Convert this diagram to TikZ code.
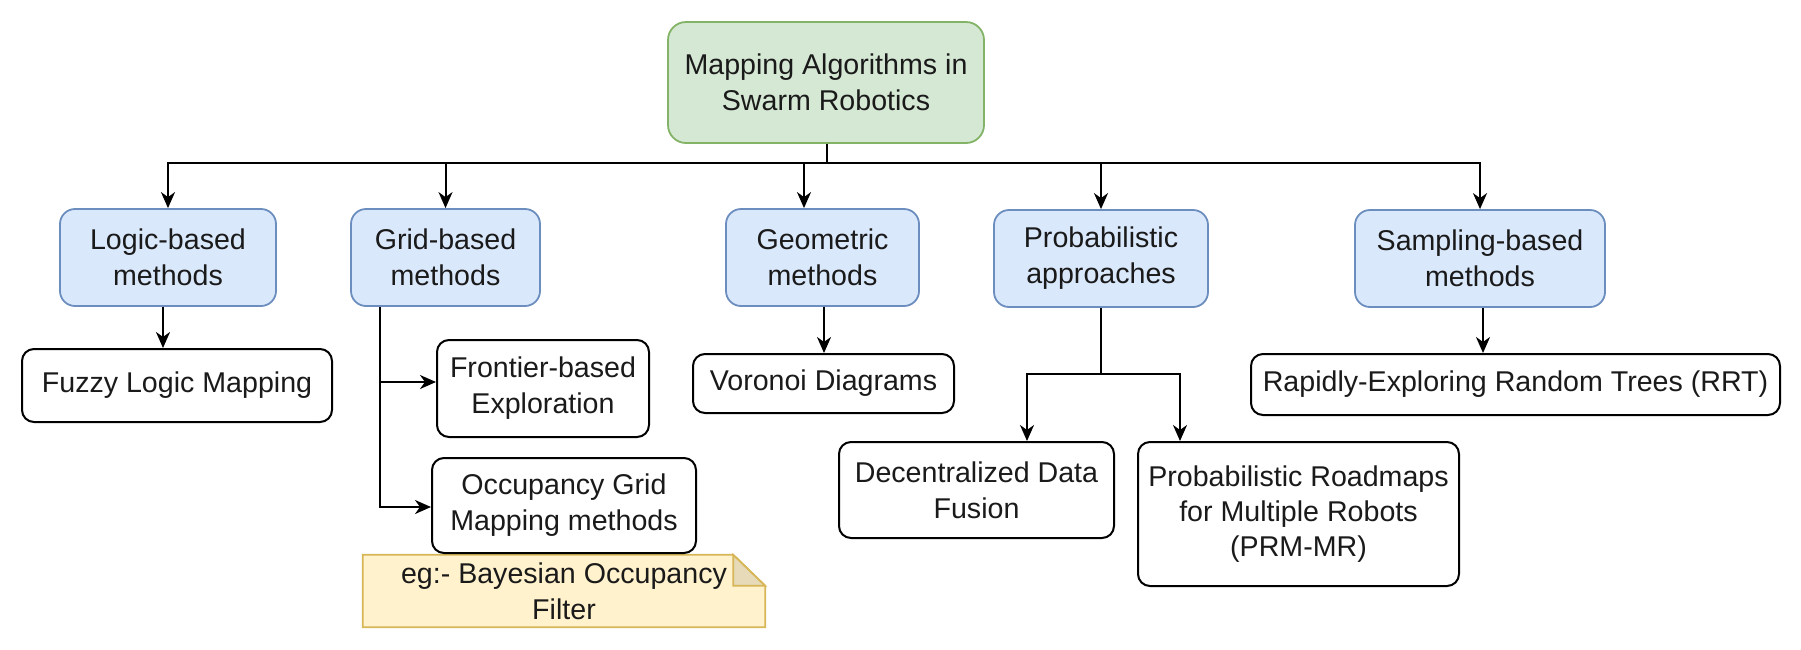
\documentclass[tikz,border=0pt]{standalone}
\usepackage{fontspec}
\setmainfont{Liberation Sans}
\usetikzlibrary{arrows.meta,calc}
\pgfdeclarelayer{background}
\pgfsetlayers{background,main}
\definecolor{gfill}{HTML}{D5E8D4}
\definecolor{gstroke}{HTML}{82B366}
\definecolor{bfill}{HTML}{DAE8FC}
\definecolor{bstroke}{HTML}{6C8EBF}
\definecolor{nfill}{HTML}{FFF2CC}
\definecolor{nstroke}{HTML}{D6B656}
\definecolor{nfold}{HTML}{E6DAB8}
\definecolor{txt}{HTML}{1A1A1A}
\begin{document}
\begin{tikzpicture}[x=1pt,y=-1pt,
  every node/.style={font=\fontsize{28.6}{36}\selectfont, text=txt, align=center, inner sep=0pt},
  rootbox/.style={draw=gstroke, fill=gfill, line width=1.8pt, rounded corners=18pt},
  bluebox/.style={draw=bstroke, fill=bfill, line width=1.8pt, rounded corners=15pt, minimum height=97pt},
  wbox/.style={draw=black, fill=white, line width=2pt, rounded corners=12pt},
  arr/.style={line width=2pt, -{Stealth[length=16pt,width=14pt,inset=5pt]}},
  notebody/.style={draw=nstroke, fill=nfill, line width=1.8pt, line join=miter},
  notefold/.style={draw=nstroke, fill=nfold, line width=1.8pt, line join=miter}
]
\useasboundingbox (0,0) rectangle (1801,649);

\node[rootbox, minimum width=316pt, minimum height=121pt] (root) at (826,82.5) {Mapping Algorithms in\\Swarm Robotics};

\node[bluebox, minimum width=216pt] (logic) at (168,257.5) {Logic-based\\methods};
\node[bluebox, minimum width=189pt] (grid) at (445.5,257.5) {Grid-based\\methods};
\node[bluebox, minimum width=193pt] (geom) at (822.5,257.5) {Geometric\\methods};
\node[bluebox, minimum width=214pt] (prob) at (1101,258.5) {Probabilistic\\approaches};
\node[bluebox, minimum width=250pt] (samp) at (1480,258.5) {Sampling-based\\methods};

\node[wbox, minimum width=310pt, minimum height=73pt] (fuzzy) at (177,385.5) {Fuzzy Logic Mapping};
\node[wbox, minimum width=212pt, minimum height=97pt] (front) at (543,388.5) {Frontier-based\\Exploration};
\node[wbox, minimum width=264pt, minimum height=95pt] (occ) at (564,505.5) {Occupancy Grid\\Mapping methods};
\node[minimum width=402pt, minimum height=72pt] (note) at (564,591) {eg:- Bayesian Occupancy\\Filter};
\node[wbox, minimum width=261pt, minimum height=59pt] (voro) at (823.5,383.5) {Voronoi Diagrams};
\node[wbox, minimum width=275pt, minimum height=96pt] (dec) at (976.5,490) {Decentralized Data\\Fusion};
\node[wbox, minimum width=321pt, minimum height=144pt, font=\fontsize{28.6}{35}\selectfont] (prm) at (1298.5,514) {Probabilistic Roadmaps\\for Multiple Robots\\(PRM-MR)};
\node[wbox, minimum width=529pt, minimum height=61pt] (rrt) at (1515.5,384.5) {Rapidly-Exploring Random Trees (RRT)};

\begin{pgfonlayer}{background}
\draw[notebody] (note.north west) -- ([xshift=-32pt]note.north east) -- ([yshift=-31pt]note.north east) -- (note.south east) -- (note.south west) -- cycle;
\draw[notefold] ([xshift=-32pt]note.north east) -- ([xshift=-32pt,yshift=-31pt]note.north east) -- ([yshift=-31pt]note.north east) -- cycle;
\end{pgfonlayer}

% root to categories
\draw[arr] ([xshift=1pt]root.south) -- ++(0,19) -| (logic.north);
\draw[arr] ([xshift=1pt]root.south) -- ++(0,19) -| (grid.north);
\draw[arr] ([xshift=1pt]root.south) -- ++(0,19) -| ([xshift=-18.5pt]geom.north);
\draw[arr] ([xshift=1pt]root.south) -- ++(0,19) -| (prob.north);
\draw[arr] ([xshift=1pt]root.south) -- ++(0,19) -| (samp.north);

% children
\draw[arr] ([xshift=-5pt]logic.south) -- ([xshift=-14pt]fuzzy.north);
\draw[arr] ([xshift=-65.5pt]grid.south) |- ([yshift=6.5pt]front.west);
\draw[arr] ([xshift=-65.5pt]grid.south) |- ([yshift=-1.5pt]occ.west);
\draw[arr] ([xshift=1.5pt]geom.south) -- ([xshift=0.5pt]voro.north);
\draw[arr] (prob.south) -- ++(0,66) -| ([xshift=50.5pt]dec.north);
\draw[arr] (prob.south) -- ++(0,66) -| ([xshift=-118.5pt]prm.north);
\draw[arr] ([xshift=3pt]samp.south) -- ([xshift=-32.5pt]rrt.north);
\end{tikzpicture}
\end{document}
